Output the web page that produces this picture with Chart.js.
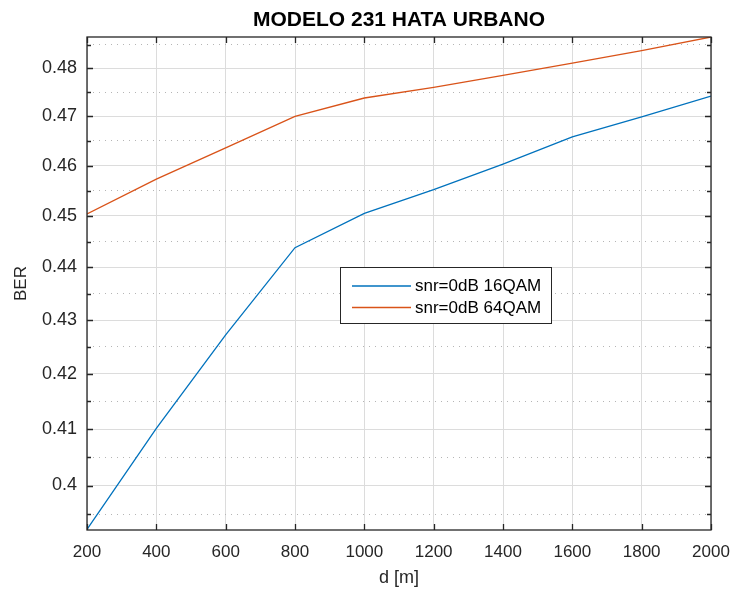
<!DOCTYPE html>
<html>
<head>
<meta charset="utf-8">
<script src="https://cdn.jsdelivr.net/npm/chart.js@4/dist/chart.umd.min.js"></script>
<style>
  html, body { margin: 0; padding: 0; background: #ffffff; }
  #wrap { width: 736px; height: 595px; }
</style>
</head>
<body>
<div id="wrap"><canvas id="c" width="736" height="595"></canvas></div>
<script>
// ---- data ----
const distances = [200, 400, 600, 800, 1000, 1200, 1400, 1600, 1800, 2000];
const ber16qam  = [0.3924, 0.4101, 0.4272, 0.4438, 0.4505, 0.4552, 0.4603, 0.4658, 0.4699, 0.4742];
const ber64qam  = [0.4504, 0.4573, 0.4636, 0.4700, 0.4738, 0.4760, 0.4785, 0.4811, 0.4837, 0.4866];
const seriesLabels = ['snr=0dB 16QAM', 'snr=0dB 64QAM'];
const xTicks = [200, 400, 600, 800, 1000, 1200, 1400, 1600, 1800, 2000];
const xTickLabels = ['200', '400', '600', '800', '1000', '1200', '1400', '1600', '1800', '2000'];
const yMajorTicks = [0.40, 0.41, 0.42, 0.43, 0.44, 0.45, 0.46, 0.47, 0.48];
const yTickLabels = ['0.4', '0.41', '0.42', '0.43', '0.44', '0.45', '0.46', '0.47', '0.48'];
const yMinorTicks = [0.395, 0.405, 0.415, 0.425, 0.435, 0.445, 0.455, 0.465, 0.475, 0.485];
const chartTitle = 'MODELO 231 HATA URBANO';
const xTitle = 'd [m]';
const yTitle = 'BER';

const FONT = '"Liberation Sans", Arial, Helvetica, sans-serif';
const AXIS = '#262626';

const toPoints = (xs, ys) => xs.map((x, i) => ({ x: x, y: ys[i] }));
const labelFor = (ticks, labels) => (v) => {
  const i = ticks.findIndex(t => Math.abs(t - v) < 1e-9);
  return i >= 0 ? labels[i] : '';
};

// center the title over the axes (as MATLAB does)
const titleCenterPlugin = {
  id: 'titleCenter',
  afterLayout(chart) {
    const tb = chart.titleBlock, a = chart.chartArea;
    if (tb && a) { tb.left = a.left; tb.right = a.right; tb.width = a.right - a.left; }
  }
};

// inward ticks + box (MATLAB style)
const boxPlugin = {
  id: 'matlabBox',
  afterDatasetsDraw(chart) {
    const { ctx, chartArea: a, scales } = chart;
    ctx.save();
    ctx.strokeStyle = AXIS;
    ctx.lineWidth = 1.3;
    ctx.beginPath();
    scales.x.ticks.forEach(t => {
      const px = Math.round(scales.x.getPixelForValue(t.value)) + 0.5;
      ctx.moveTo(px, a.bottom); ctx.lineTo(px, a.bottom - 6);
      ctx.moveTo(px, a.top); ctx.lineTo(px, a.top + 6);
    });
    scales.y.ticks.forEach(t => {
      const py = Math.round(scales.y.getPixelForValue(t.value)) + 0.5;
      ctx.moveTo(a.left, py); ctx.lineTo(a.left + 6, py);
      ctx.moveTo(a.right, py); ctx.lineTo(a.right - 6, py);
    });
    scales.y2.ticks.forEach(t => {
      const py = Math.round(scales.y2.getPixelForValue(t.value)) + 0.5;
      ctx.moveTo(a.left, py); ctx.lineTo(a.left + 4, py);
      ctx.moveTo(a.right, py); ctx.lineTo(a.right - 4, py);
    });
    ctx.stroke();
    ctx.strokeRect(a.left, a.top, a.right - a.left, a.bottom - a.top);
    ctx.restore();
  }
};

// legend box drawn inside the axes, as in the reference
const legendBoxPlugin = {
  id: 'legendBox',
  afterDraw(chart) {
    const { ctx } = chart;
    const bx = 340, by = 267, bw = 211, bh = 56;
    ctx.save();
    ctx.fillStyle = '#ffffff';
    ctx.fillRect(bx, by, bw, bh);
    ctx.strokeStyle = AXIS;
    ctx.lineWidth = 1;
    ctx.strokeRect(bx + 0.5, by + 0.5, bw, bh);
    ctx.font = '17px ' + FONT;
    ctx.textBaseline = 'middle';
    ctx.textAlign = 'left';
    chart.data.datasets.forEach((ds, i) => {
      const yy = by + 19 + i * 21.5;
      ctx.strokeStyle = ds.borderColor;
      ctx.lineWidth = 1.5;
      ctx.beginPath();
      ctx.moveTo(bx + 12, yy); ctx.lineTo(bx + 71, yy);
      ctx.stroke();
      ctx.fillStyle = '#000000';
      ctx.fillText(ds.label, bx + 75, yy + 0.5);
    });
    ctx.restore();
  }
};

new Chart(document.getElementById('c'), {
  type: 'line',
  data: {
    datasets: [
      { label: seriesLabels[0], data: toPoints(distances, ber16qam), borderColor: '#0072BD', backgroundColor: '#0072BD', borderWidth: 1.3, pointRadius: 0, tension: 0, fill: false },
      { label: seriesLabels[1], data: toPoints(distances, ber64qam), borderColor: '#D95319', backgroundColor: '#D95319', borderWidth: 1.3, pointRadius: 0, tension: 0, fill: false }
    ]
  },
  options: {
    responsive: false,
    animation: false,
    layout: { padding: { left: 0, right: 25, top: 0, bottom: 0 } },
    plugins: {
      legend: { display: false },
      tooltip: { enabled: false },
      title: {
        display: true,
        text: chartTitle,
        color: '#000000',
        font: { family: FONT, size: 21, weight: 'bold', lineHeight: 1.2 },
        padding: { top: 7.5, bottom: 4.3 }
      }
    },
    scales: {
      x: {
        type: 'linear',
        min: 200, max: 2000,
        bounds: 'data',
        afterBuildTicks: s => { s.ticks = xTicks.map(v => ({ value: v })); },
        afterFit: s => { s.height = 65; s.paddingLeft = 0; s.paddingRight = 0; },
        ticks: { color: AXIS, font: { family: FONT, size: 17 }, padding: 12, maxRotation: 0, autoSkip: false,
                 callback: labelFor(xTicks, xTickLabels) },
        grid: { color: '#dcdcdc', lineWidth: 1, drawTicks: false },
        border: { display: false },
        title: { display: true, text: xTitle, color: AXIS, font: { family: FONT, size: 18, lineHeight: 1.2 }, padding: { top: 0, bottom: 6 } }
      },
      y: {
        type: 'logarithmic',
        position: 'left',
        bounds: 'data',
        min: 0.3923, max: 0.4866,
        afterBuildTicks: s => { s.ticks = yMajorTicks.map(v => ({ value: v })); },
        afterFit: s => { s.width = 87; s.paddingTop = 0; s.paddingBottom = 0; },
        ticks: { color: AXIS, font: { family: FONT, size: 18 }, padding: 10, autoSkip: false,
                 callback: labelFor(yMajorTicks, yTickLabels) },
        grid: { color: '#dcdcdc', lineWidth: 1, drawTicks: false },
        border: { display: false },
        title: { display: true, text: yTitle, color: AXIS, font: { family: FONT, size: 17, lineHeight: 1.2 }, padding: { top: 11, bottom: 0 } }
      },
      y2: {
        type: 'logarithmic',
        position: 'left',
        bounds: 'data',
        min: 0.3923, max: 0.4866,
        afterBuildTicks: s => { s.ticks = yMinorTicks.map(v => ({ value: v })); },
        afterFit: s => { s.width = 0; s.paddingTop = 0; s.paddingBottom = 0; },
        ticks: { display: false },
        grid: { color: '#b5b5b5', lineWidth: 1, drawTicks: false },
        border: { display: false, dash: [1, 5] }
      }
    }
  },
  plugins: [titleCenterPlugin, boxPlugin, legendBoxPlugin]
});
</script>
</body>
</html>
